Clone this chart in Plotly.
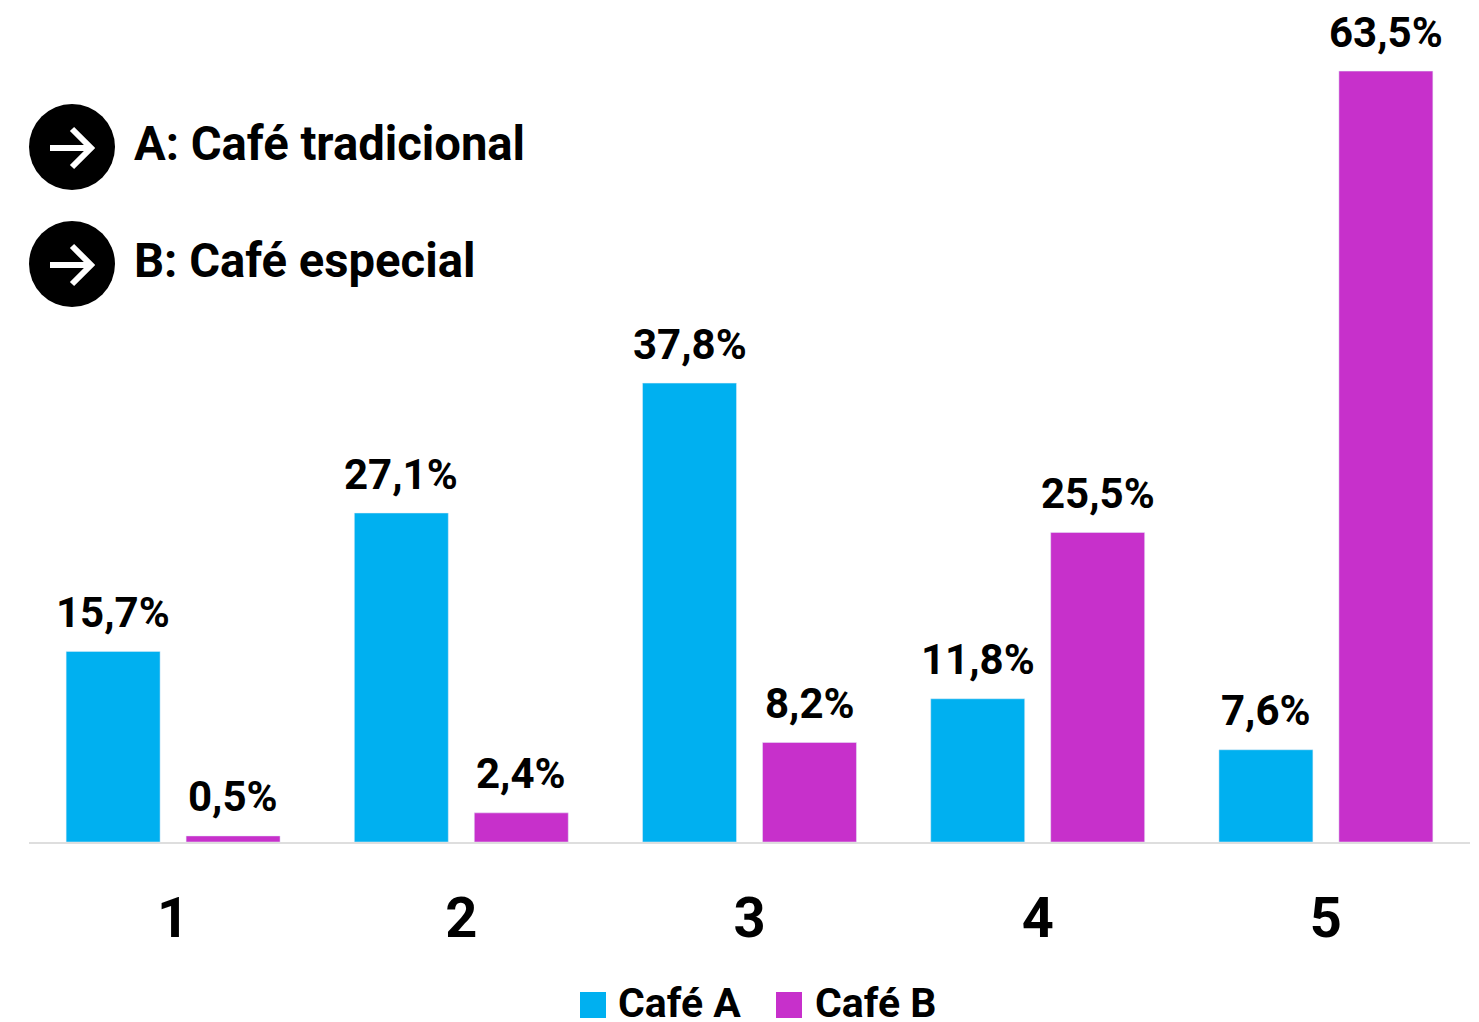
import plotly.graph_objects as go

categories = ["1", "2", "3", "4", "5"]
cafe_a = [15.7, 27.1, 37.8, 11.8, 7.6]
cafe_b = [0.5, 2.4, 8.2, 25.5, 63.5]
notes = ["A: Café tradicional", "B: Café especial"]
series_names = ["Café A", "Café B"]
COLOR_A = "#00b0f0"
COLOR_B = "#c730cb"
FONT = "Roboto, 'Noto Sans', sans-serif"
OFF = 8  # page body margin
W, H = 1479 - OFF, 1022 - OFF
L, R, T, B = 29 - OFF, 1470 - OFF, 0, 842 - OFF


def px(x):
    return (x - OFF - L) / (R - L)


def py(y):
    return (B - (y - OFF)) / (B - T)


def label(v):
    return f"{v:.1f}%".replace(".", ",")


fig = go.Figure()
for name, vals, col, shift in ((series_names[0], cafe_a, COLOR_A, -60),
                               (series_names[1], cafe_b, COLOR_B, 60)):
    fig.add_bar(name=name, x=categories, y=vals, marker_color=col, showlegend=False)
    for i, v in enumerate(vals):
        fig.add_annotation(x=i, y=v, text=f"<b>{label(v)}</b>", showarrow=False,
                           xshift=shift, yshift=39, yanchor="middle",
                           font=dict(size=42, color="black", family=FONT))

for note, cy in zip(notes, (147, 264)):
    fig.add_shape(type="circle", xref="paper", yref="paper",
                  x0=px(29), x1=px(115), y0=py(cy + 43), y1=py(cy - 43),
                  fillcolor="black", line_width=0)
    arrow = (f"M{px(50)},{py(cy + 1)} L{px(90)},{py(cy + 1)} "
             f"M{px(72)},{py(cy - 18)} L{px(91)},{py(cy + 1)} L{px(72)},{py(cy + 20)}")
    fig.add_shape(type="path", xref="paper", yref="paper", path=arrow,
                  line=dict(color="white", width=6))
    fig.add_annotation(xref="paper", yref="paper", x=px(134), y=py(cy - 3),
                       text=f"<b>{note}</b>", showarrow=False, xanchor="left", yanchor="middle",
                       xshift=-2, font=dict(size=47.2, color="black", family=FONT))

for name, col, sx, tx in ((series_names[0], COLOR_A, 580, 618), (series_names[1], COLOR_B, 776, 815)):
    fig.add_shape(type="rect", xref="paper", yref="paper",
                  x0=px(sx), x1=px(sx + 26), y0=py(1018), y1=py(992),
                  fillcolor=col, line_width=0)
    fig.add_annotation(xref="paper", yref="paper", x=px(tx), y=py(1003),
                       text=f"<b>{name}</b>", showarrow=False, xanchor="left", yanchor="middle",
                       xshift=-2, font=dict(size=41, color="black", family=FONT))

fig.update_layout(
    width=W, height=H, autosize=False, paper_bgcolor="white", plot_bgcolor="white",
    margin=dict(l=L, r=W - R, t=T, b=H - B, pad=0),
    barmode="group", bargap=0.1675, bargroupgap=0.2167,
    showlegend=False,
    xaxis=dict(type="category", categoryorder="array", categoryarray=categories,
               range=[-0.5, 4.5],
               tickfont=dict(size=56, color="black", family=FONT, weight="bold"),
               showline=True, linecolor="#dedede", linewidth=2, ticks="outside",
               ticklen=26, tickcolor="rgba(0,0,0,0)", showgrid=False, fixedrange=True),
    yaxis=dict(visible=False, range=[0, (B - T) / 12.14], fixedrange=True),
)
fig.write_html("out.html")
